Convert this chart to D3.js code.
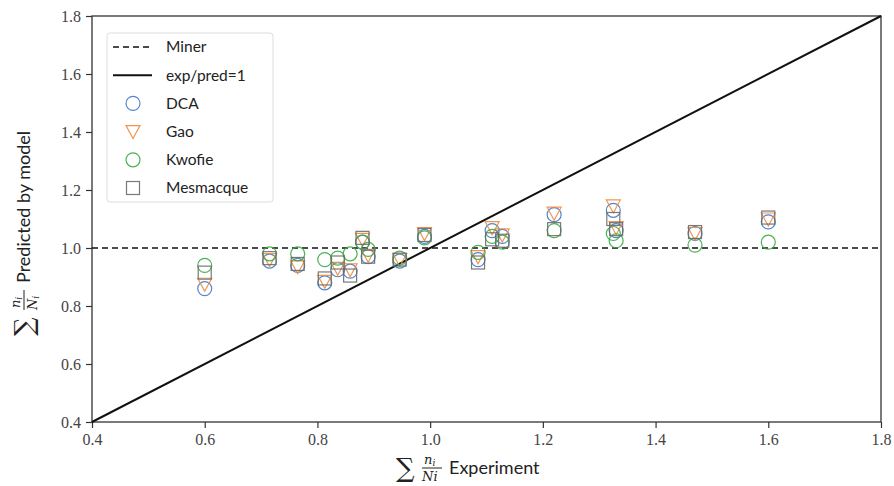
<!DOCTYPE html>
<html>
<head>
<meta charset="utf-8">
<script src="https://cdn.jsdelivr.net/npm/d3@7"></script>
<style>
  body { margin: 0; background: #fff; }
  .lbl { font-family: Lato, "Open Sans", sans-serif; fill: #222; }
</style>
</head>
<body>
<svg id="chart"></svg>
<script>
// measurements: sum n_i/N_i from experiment vs. predicted by each model
var experiment = [0.60, 0.715, 0.765, 0.813, 0.836, 0.858, 0.880, 0.890, 0.946, 0.990, 1.085, 1.110, 1.128, 1.220, 1.325, 1.330, 1.470, 1.600];
var dca       = [0.86, 0.955, 0.94, 0.88, 0.925, 0.92, 1.02, 0.97, 0.955, 1.04, 0.96, 1.06, 1.04, 1.115, 1.13, 1.06, 1.05, 1.09];
var gao       = [0.875, 0.96, 0.935, 0.885, 0.93, 0.925, 1.03, 0.975, 0.96, 1.05, 0.97, 1.07, 1.045, 1.12, 1.145, 1.07, 1.05, 1.10];
var kwofie    = [0.94, 0.98, 0.98, 0.96, 0.965, 0.98, 1.02, 0.995, 0.965, 1.035, 0.985, 1.04, 1.02, 1.06, 1.05, 1.025, 1.01, 1.02];
var mesmacque = [0.915, 0.965, 0.945, 0.895, 0.95, 0.905, 1.035, 0.97, 0.96, 1.045, 0.95, 1.03, 1.025, 1.065, 1.10, 1.065, 1.055, 1.105];
var ticks = [0.4, 0.6, 0.8, 1.0, 1.2, 1.4, 1.6, 1.8];

var width = 894, height = 486;
var margin = {left: 92, right: 13, top: 16, bottom: 64};

var svg = d3.select("#chart").attr("width", width).attr("height", height);

var x = d3.scaleLinear().domain([0.4, 1.8]).range([margin.left, width - margin.right]);
var y = d3.scaleLinear().domain([0.4, 1.8]).range([height - margin.bottom, margin.top]);

var series = [
  {name: "DCA", values: dca, shape: "circle", color: "#3f78c9"},
  {name: "Gao", values: gao, shape: "triangle", color: "#f08a3c"},
  {name: "Kwofie", values: kwofie, shape: "circle", color: "#3aa845"},
  {name: "Mesmacque", values: mesmacque, shape: "square", color: "#6a6a6a"}
];

function drawMarker(g, shape, color) {
  if (shape == "circle") {
    g.append("circle").attr("r", 7);
  } else if (shape == "triangle") {
    g.append("path").attr("d", "M-7,-6L7,-6L0,7Z");
  } else {
    g.append("rect").attr("x", -6.5).attr("y", -6.5).attr("width", 13).attr("height", 13);
  }
  g.selectAll("*").attr("fill", "none").attr("stroke", color).attr("stroke-width", 1.2).attr("stroke-opacity", 0.9);
}

// axes
var xAxis = svg.append("g")
  .attr("transform", "translate(0," + (height - margin.bottom) + ")")
  .call(d3.axisBottom(x).tickValues(ticks).tickSize(6).tickPadding(6).tickFormat(d3.format(".1f")));
var yAxis = svg.append("g")
  .attr("transform", "translate(" + margin.left + ",0)")
  .call(d3.axisLeft(y).tickValues(ticks).tickSize(6).tickPadding(5).tickFormat(d3.format(".1f")));
[xAxis, yAxis].forEach(function(a) {
  a.attr("font-family", "Liberation Serif").attr("font-size", 16);
  a.select(".domain").remove();
  a.selectAll(".tick line").attr("stroke", "#333").attr("stroke-width", 1.2);
  a.selectAll(".tick text").attr("fill", "#444");
});

// frame
svg.append("rect")
  .attr("x", x(0.4)).attr("y", y(1.8))
  .attr("width", x(1.8) - x(0.4)).attr("height", y(0.4) - y(1.8))
  .attr("fill", "none").attr("stroke", "#333").attr("stroke-width", 1.3);

// reference lines
svg.append("line")
  .attr("x1", x(0.4)).attr("x2", x(1.8)).attr("y1", y(1)).attr("y2", y(1))
  .attr("stroke", "#111").attr("stroke-width", 1.5).attr("stroke-dasharray", "6,4");
svg.append("line")
  .attr("x1", x(0.4)).attr("y1", y(0.4)).attr("x2", x(1.8)).attr("y2", y(1.8))
  .attr("stroke", "#111").attr("stroke-width", 2);

// points
series.forEach(function(s) {
  svg.append("g").selectAll("g")
    .data(s.values)
  .enter().append("g")
    .attr("transform", function(d, i) { return "translate(" + x(experiment[i]) + "," + y(d) + ")"; })
    .each(function() { drawMarker(d3.select(this), s.shape, s.color); });
});

// legend
var legend = svg.append("g").attr("transform", "translate(107,33)");
legend.append("rect").attr("width", 166).attr("height", 169).attr("rx", 3)
  .attr("fill", "#fff").attr("fill-opacity", 0.85).attr("stroke", "#ddd");
var legendItems = [
  {name: "Miner", line: "6,4"},
  {name: "exp/pred=1", line: "none"}
].concat(series);
legendItems.forEach(function(d, i) {
  var row = legend.append("g").attr("transform", "translate(0," + (14 + i * 28.2) + ")");
  if (d.line) {
    row.append("line").attr("x1", 6).attr("x2", 45).attr("stroke", "#111")
      .attr("stroke-width", d.line == "none" ? 2 : 1.5)
      .attr("stroke-dasharray", d.line == "none" ? null : d.line);
  } else {
    var m = row.append("g").attr("transform", "translate(26,0)");
    drawMarker(m, d.shape, d.color);
  }
  row.append("text").attr("class", "lbl").attr("x", 59).attr("dy", "0.35em")
    .attr("font-size", 15.5).text(d.name);
});

function sumLabel(g, denomSub) {
  g.append("text").attr("font-family", "DejaVu Serif, serif").attr("font-size", 26).attr("x", 0).attr("y", 9).attr("fill", "#222").text("\u2211");
  g.append("text").attr("font-family", "DejaVu Serif, serif").attr("font-style", "italic").attr("font-size", 13).attr("fill", "#222")
    .attr("x", 28).attr("y", -4).html('n<tspan font-size="9" dy="2">i</tspan>');
  g.append("line").attr("x1", 26).attr("x2", 46).attr("y1", 0).attr("y2", 0).attr("stroke", "#222");
  g.append("text").attr("font-family", "DejaVu Serif, serif").attr("font-style", "italic").attr("font-size", 13).attr("fill", "#222")
    .attr("x", 26).attr("y", 13).html(denomSub ? 'N<tspan font-size="9" dy="2">i</tspan>' : "Ni");
}

// x label
var xl = svg.append("g").attr("transform", "translate(396,468)");
sumLabel(xl, false);
xl.append("text").attr("class", "lbl").attr("font-size", 18).attr("x", 53).attr("y", 6).text("Experiment");

// y label
var yl = svg.append("g").attr("transform", "translate(24,336) rotate(-90)");
sumLabel(yl, true);
yl.append("text").attr("class", "lbl").attr("font-size", 18).attr("x", 53).attr("y", 6).text("Predicted by model");
</script>
</body>
</html>
